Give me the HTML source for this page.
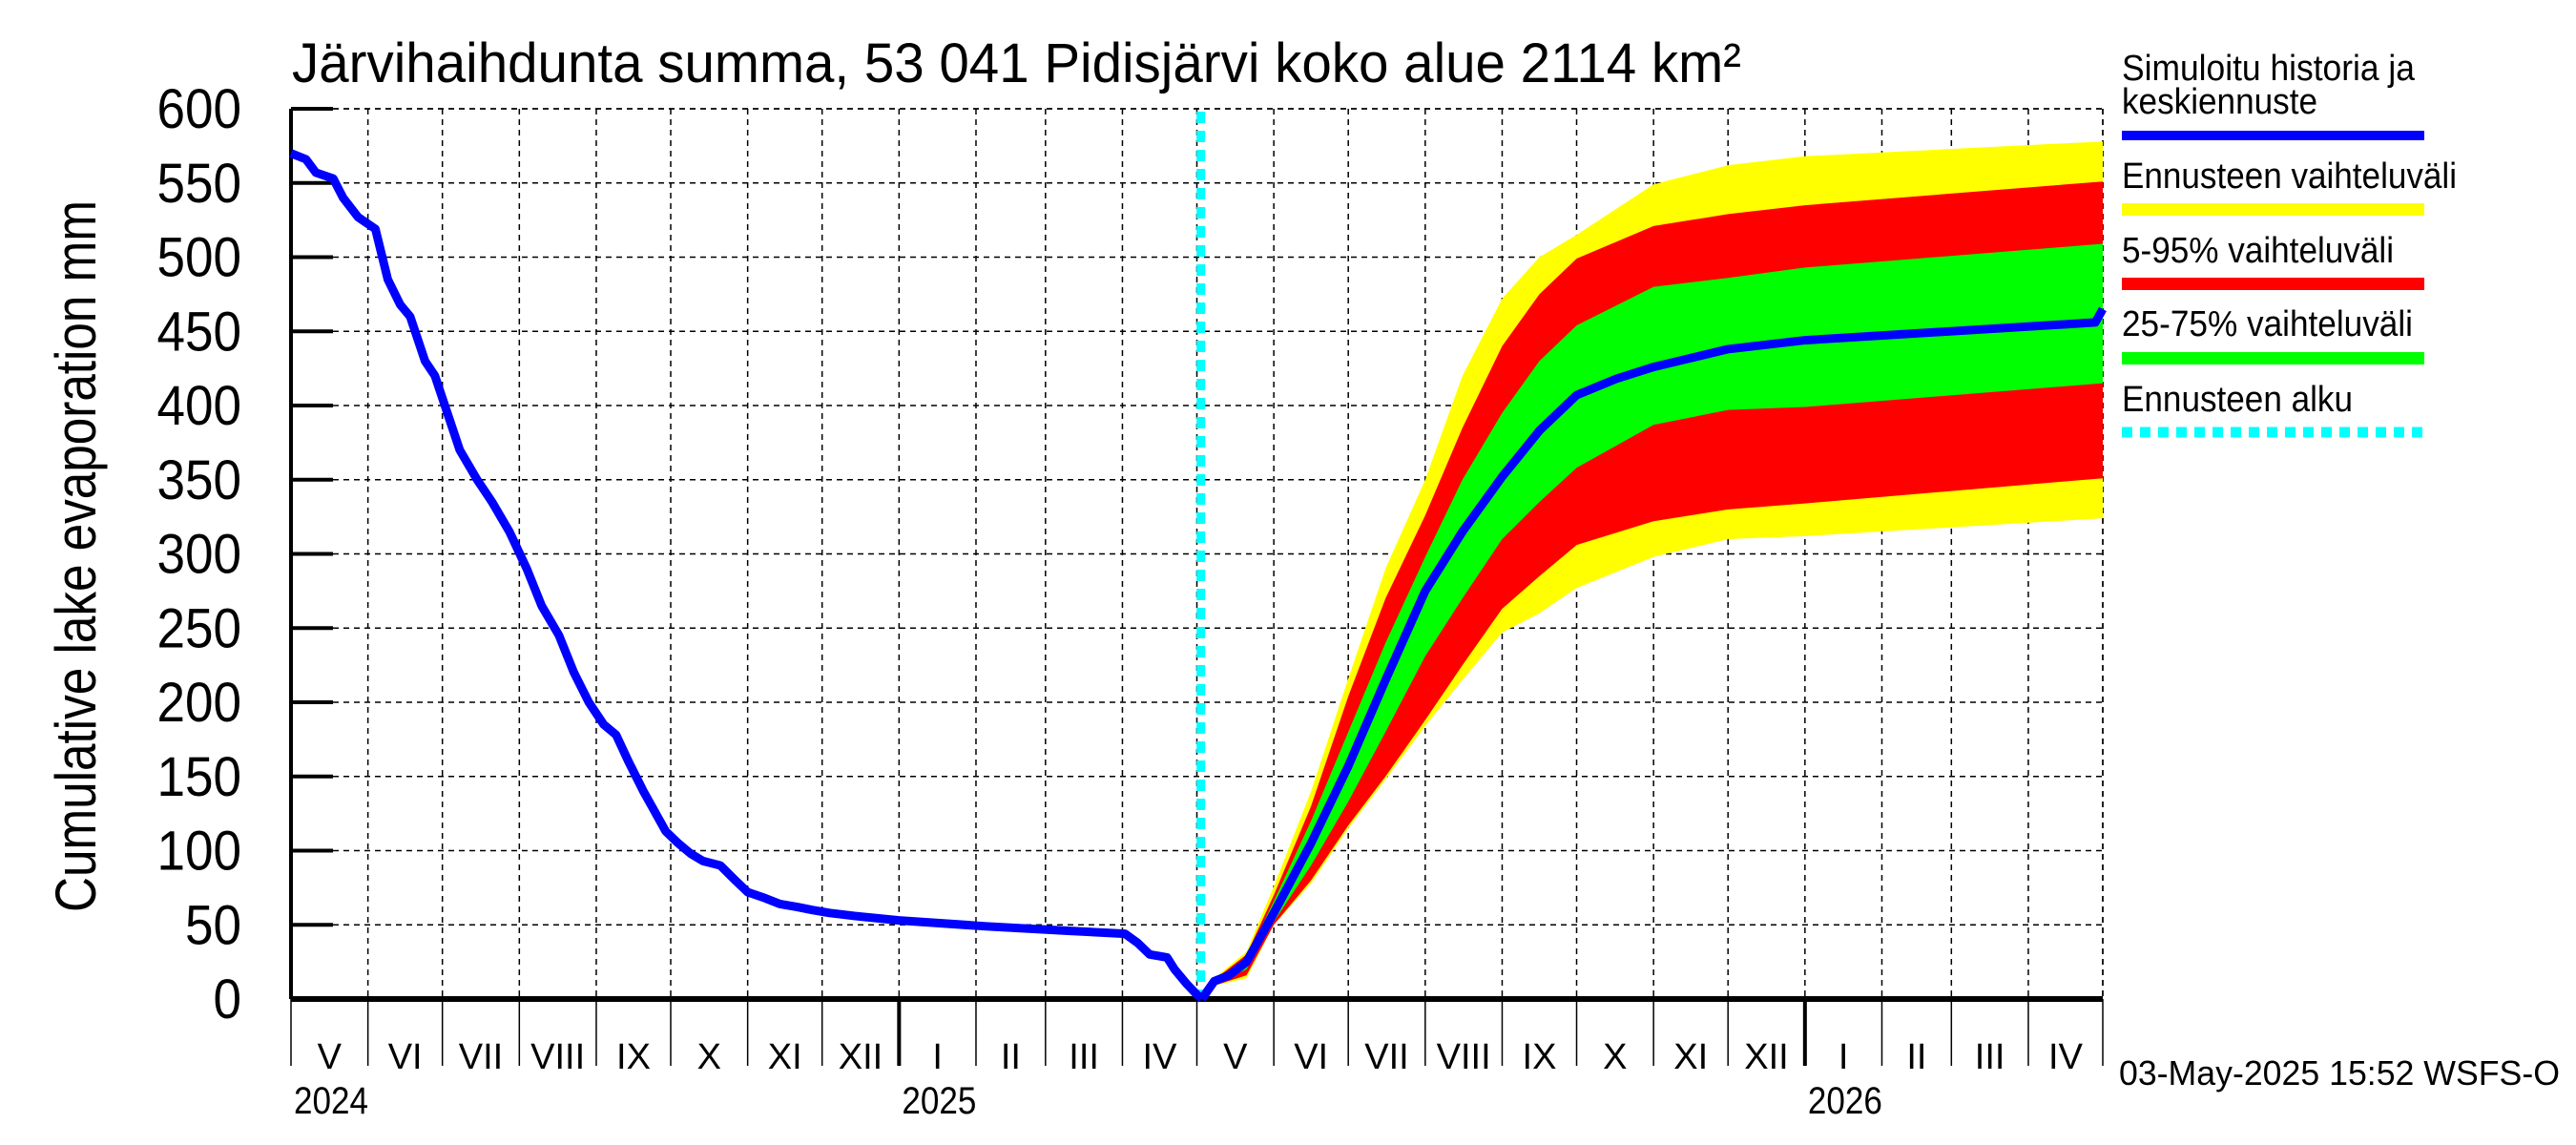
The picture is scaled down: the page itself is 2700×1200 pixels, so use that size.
<!DOCTYPE html>
<html><head><meta charset="utf-8"><style>
html,body{margin:0;padding:0;background:#fff;}
svg{display:block;font-family:"Liberation Sans",sans-serif;}
</style></head><body>
<svg id="chart" width="2700" height="1200" viewBox="0 0 2700 1200" xmlns="http://www.w3.org/2000/svg">
<text x="306" y="86" font-size="58" textLength="1519" lengthAdjust="spacingAndGlyphs">Järvihaihdunta summa, 53 041 Pidisjärvi koko alue 2114 km²</text>
<text transform="translate(100,583) rotate(-90)" text-anchor="middle" font-size="60" textLength="746" lengthAdjust="spacingAndGlyphs">Cumulative lake evaporation   mm</text>
<g id="grid"></g>
<g id="bands"></g>
<g id="axes"></g>
<g id="lines"></g>
<g id="legend">
 <text x="2224" y="84" font-size="38" textLength="307" lengthAdjust="spacingAndGlyphs">Simuloitu historia ja</text>
 <text x="2224" y="119" font-size="38" textLength="205" lengthAdjust="spacingAndGlyphs">keskiennuste</text>
 <rect x="2224" y="137" width="317" height="10" fill="#0000ff"/>
 <text x="2224" y="197" font-size="38" textLength="351" lengthAdjust="spacingAndGlyphs">Ennusteen vaihteluväli</text>
 <rect x="2224" y="213" width="317" height="13" fill="#ffff00"/>
 <text x="2224" y="275" font-size="38" textLength="285" lengthAdjust="spacingAndGlyphs">5-95% vaihteluväli</text>
 <rect x="2224" y="291" width="317" height="13" fill="#ff0000"/>
 <text x="2224" y="352" font-size="38" textLength="305" lengthAdjust="spacingAndGlyphs">25-75% vaihteluväli</text>
 <rect x="2224" y="369" width="317" height="13" fill="#00ff00"/>
 <text x="2224" y="431" font-size="38" textLength="242" lengthAdjust="spacingAndGlyphs">Ennusteen alku</text>
 <line x1="2224" y1="453" x2="2541" y2="453" stroke="#00ffff" stroke-width="11" stroke-dasharray="11,8"/>
</g>
<text x="2683" y="1137" font-size="36" text-anchor="end" textLength="462" lengthAdjust="spacingAndGlyphs">03-May-2025 15:52 WSFS-O</text>
</svg>
<script>
// ---- data (day = days since 2024-05-01) ----
const yTicks = [0,50,100,150,200,250,300,350,400,450,500,550,600];
const monthStarts = [0,31,61,92,123,153,184,214,245,276,304,335,365,396,426,457,488,518,549,579,610,641,669,700,730];
const monthLabels = ["V","VI","VII","VIII","IX","X","XI","XII","I","II","III","IV","V","VI","VII","VIII","IX","X","XI","XII","I","II","III","IV"];
const yearDays = [0,245,610];
const yearLabels = ["2024","2025","2026"];
const forecastStartDay = 366.6;
const histDays = [0,6,10,17,21,27,34,39,44,48,54,58,63,68,75,81,88,95,101,108,114,120,126,131,136,142,146,151,156,161,166,173,179,184,191,197,204,210,217,227,245,280,313,336,341,346,353,356,361,365,367];
const histVals = [570,566,557,553,540,527,519,485,468,460,430,420,395,370,350,335,315,290,265,245,220,200,185,178,160,140,128,113,105,98,93,90,80,72,68,64,62,60,58,56,53,49,46,44,38,30,28,20,10,3,0];
const medDays = [367,372,378,385,396,411,426,441,457,472,488,503,518,534,549,579,610,727,730];
const medVals = [0,12,16,25,58,105,157,215,275,315,352,383,407,418,426,438,444,456,465];
const bandDays = [367,372,385,396,411,426,441,457,472,488,503,518,549,579,610,730];
const bandMax = [0,14,32,76,140,216,290,350,420,472,500,515,549,562,568,578];
const band95 = [0,13,30,70,130,204,270,326,385,440,475,499,521,529,535,551];
const band75 = [0,12,28,66,120,180,240,298,350,395,430,454,480,486,493,509];
const band25 = [0,10,20,52,90,133,180,231,270,310,335,358,387,397,399,415];
const band5 = [0,9,16,50,80,117,150,188,225,263,285,306,322,330,334,351];
const bandMin = [0,9,14,50,78,115,148,184,215,247,260,277,298,310,312,324];

const L=305,R=2204,T=114,B=1047;
const xS = d => L + d/730*(R-L);
const yS = v => B - v/600*(B-T);
const NS="http://www.w3.org/2000/svg";
function mk(tag, attrs, parent){const e=document.createElementNS(NS,tag);for(const k in attrs)e.setAttribute(k,attrs[k]);parent.appendChild(e);return e;}
const grid=document.getElementById('grid'),axes=document.getElementById('axes'),bands=document.getElementById('bands'),lines=document.getElementById('lines');

yTicks.forEach(v=>{
  if(v>0){const g=mk('line',{x1:L,x2:R,y1:yS(v),y2:yS(v),stroke:'#000','stroke-width':1.5,'stroke-dasharray':'6,5'},grid);
  
  }
  const t=mk('line',{x1:L,x2:L+44,y1:yS(v),y2:yS(v),stroke:'#000','stroke-width':4},axes);
  
  
  const s=String(v);
  const lb=mk('text',{x:253,y:yS(v)+20,'font-size':58,'text-anchor':'end',textLength:s.length*29.5,lengthAdjust:'spacingAndGlyphs'},axes);
  lb.textContent=s;
  
  
});
monthStarts.forEach((d,i)=>{
  if(d>0){const g=mk('line',{x1:xS(d),x2:xS(d),y1:T,y2:B,stroke:'#000','stroke-width':1.5,'stroke-dasharray':'6,5'},grid);
  
  }
  const t=mk('line',{x1:xS(d),x2:xS(d),y1:B,y2:1117,stroke:'#000','stroke-width':1.5},axes);
  
  
  if(i<monthLabels.length){
    const lb=mk('text',{x:(xS(d)+xS(monthStarts[i+1]))/2,y:1120,'font-size':38,'text-anchor':'middle'},axes);
    lb.textContent=monthLabels[i];
    
    
  }
});
yearDays.forEach((d,i)=>{
  if(d>0){const t=mk('line',{x1:xS(d),x2:xS(d),y1:B,y2:1117,stroke:'#000','stroke-width':4},axes);
  
  }
  const lb=mk('text',{x:xS(d)+3,y:1167,'font-size':40,textLength:78,lengthAdjust:'spacingAndGlyphs'},axes);
  lb.textContent=yearLabels[i];
  
  
});
const rg=mk('line',{x1:R,x2:R,y1:T,y2:B,stroke:'#000','stroke-width':1.5,'stroke-dasharray':'6,5'},grid);


const tg=mk('line',{x1:L,x2:R,y1:T,y2:T,stroke:'#000','stroke-width':1.5,'stroke-dasharray':'6,5'},grid);



function band(lo,hi,color,name){
  let p=bandDays.map((d,i)=>xS(d)+','+yS(hi[i])).join(' ');
  p+=' '+bandDays.slice().reverse().map((d,j)=>{const i=bandDays.length-1-j;return xS(d)+','+yS(lo[i]);}).join(' ');
  const e=mk('polygon',{points:p,fill:color},bands);
  
  
}
band(bandMin,bandMax,'#ffff00','band-min-max');
band(band5,band95,'#ff0000','band-5-95');
band(band25,band75,'#00ff00','band-25-75');

const ax1=mk('line',{x1:L,x2:L,y1:T,y2:B,stroke:'#000','stroke-width':4},axes);


const ax2=mk('line',{x1:L,x2:R,y1:B,y2:B,stroke:'#000','stroke-width':6},axes);



const cy=mk('line',{x1:xS(forecastStartDay),x2:xS(forecastStartDay),y1:T+3,y2:B,stroke:'#00ffff','stroke-width':9,'stroke-dasharray':'12,8'},lines);


const hp=mk('polyline',{points:histDays.map((d,i)=>xS(d)+','+yS(histVals[i])).join(' '),fill:'none',stroke:'#0000ff','stroke-width':9,'stroke-linejoin':'round'},lines);


const mp=mk('polyline',{points:medDays.map((d,i)=>xS(d)+','+yS(medVals[i])).join(' '),fill:'none',stroke:'#0000ff','stroke-width':9,'stroke-linejoin':'round'},lines);


</script>
</body></html>
